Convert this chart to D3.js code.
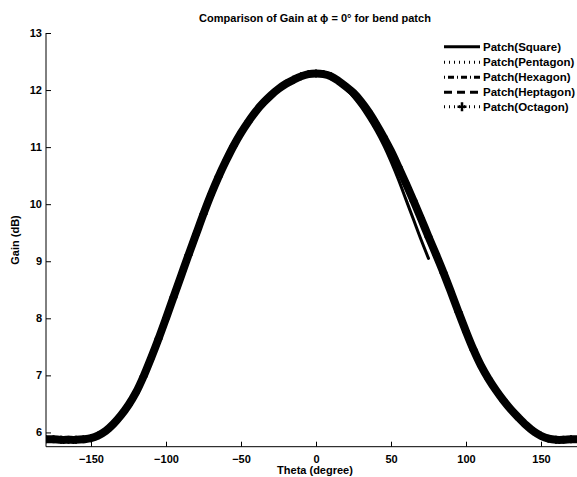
<!DOCTYPE html>
<html><head><meta charset="utf-8">
<script src="https://cdn.jsdelivr.net/npm/d3@7"></script>
<style>
body{margin:0;background:#fff;}
svg{display:block;}
text{font-family:"Liberation Sans",Arial,sans-serif;font-weight:bold;fill:#000;}
</style></head>
<body>
<script>
// ---- data ----
const theta = [-180,-175,-170,-165,-160,-155,-150,-145,-140,-135,-130,-125,-120,-115,-110,-105,-100,-95,-90,-85,-80,-75,-70,-65,-60,-55,-50,-45,-40,-35,-30,-25,-20,-15,-10,-5,0,5,10,15,20,25,30,35,40,45,50,55,60,65,70,75,80,85,90,95,100,105,110,115,120,125,130,135,140,145,150,155,160,165,170,175];
const square = [null,null,null,null,null,null,null,null,null,null,null,null,6.73,7.01,7.33,7.67,8.03,8.40,8.77,9.14,9.50,9.86,10.20,10.51,10.79,11.04,11.27,11.47,11.65,11.80,11.93,12.04,12.13,12.20,12.26,12.29,12.29,12.27,12.22,12.13,12.02,11.88,11.71,11.51,11.29,11.04,10.75,10.43,10.08,9.73,9.38,9.05,null,null,null,null,null,null,null,null,null,null,null,null,null,null,null,null,null,null,null,null];
const pentagon = [5.89,5.89,5.88,5.88,5.88,5.89,5.91,5.96,6.04,6.16,6.31,6.49,6.71,6.99,7.31,7.65,8.01,8.38,8.75,9.12,9.48,9.84,10.18,10.49,10.77,11.03,11.26,11.46,11.64,11.79,11.92,12.03,12.12,12.19,12.25,12.28,12.29,12.28,12.24,12.16,12.06,11.94,11.79,11.61,11.40,11.17,10.92,10.64,10.35,10.05,9.74,9.42,9.11,8.79,8.45,8.10,7.76,7.44,7.16,6.93,6.73,6.55,6.39,6.25,6.12,6.01,5.93,5.88,5.86,5.86,5.87,5.87];
const hexagon = [5.88,5.88,5.87,5.87,5.87,5.88,5.90,5.95,6.03,6.15,6.30,6.48,6.70,6.98,7.30,7.64,8.00,8.37,8.74,9.11,9.47,9.83,10.17,10.48,10.76,11.02,11.25,11.45,11.63,11.78,11.91,12.02,12.11,12.18,12.24,12.28,12.29,12.28,12.25,12.17,12.07,11.96,11.81,11.63,11.42,11.19,10.94,10.66,10.37,10.07,9.76,9.44,9.13,8.81,8.47,8.12,7.78,7.46,7.18,6.95,6.75,6.57,6.41,6.27,6.14,6.03,5.95,5.90,5.88,5.88,5.89,5.89];
const heptagon = [5.87,5.87,5.86,5.86,5.86,5.87,5.89,5.94,6.02,6.14,6.29,6.47,6.69,6.97,7.29,7.63,7.99,8.36,8.73,9.10,9.46,9.82,10.16,10.47,10.75,11.01,11.24,11.44,11.62,11.77,11.90,12.01,12.10,12.17,12.23,12.27,12.28,12.27,12.24,12.17,12.07,11.96,11.81,11.63,11.42,11.19,10.94,10.66,10.37,10.07,9.76,9.44,9.13,8.81,8.47,8.12,7.78,7.46,7.18,6.95,6.75,6.57,6.41,6.27,6.14,6.03,5.95,5.90,5.88,5.88,5.89,5.89];
const octagon = [5.88,5.88,5.87,5.87,5.87,5.88,5.90,5.95,6.03,6.15,6.30,6.48,6.70,6.98,7.30,7.64,8.00,8.37,8.74,9.11,9.47,9.83,10.17,10.48,10.76,11.02,11.25,11.45,11.63,11.78,11.91,12.02,12.11,12.18,12.24,12.28,12.29,12.28,12.24,12.16,12.06,11.95,11.80,11.62,11.41,11.18,10.93,10.65,10.36,10.06,9.75,9.43,9.12,8.80,8.46,8.11,7.77,7.45,7.17,6.94,6.74,6.56,6.40,6.26,6.13,6.02,5.94,5.89,5.87,5.87,5.88,5.88];
const seriesNames = ["Patch(Square)","Patch(Pentagon)","Patch(Hexagon)","Patch(Heptagon)","Patch(Octagon)"];
const xTicks = [-150,-100,-50,0,50,100,150];
const yTicks = [6,7,8,9,10,11,12,13];
const titleText = "Comparison of Gain at \u03D5 = 0\u00B0 for bend patch";
const xLabel = "Theta (degree)";
const yLabel = "Gain (dB)";

// ---- layout ----
const W = 577, H = 477;
const L = 46, T = 33, R = 578.5, B = 446.7;
const x = d3.scaleLinear().domain([-180,175]).range([L,R]);
const y = d3.scaleLinear().domain([5.75,13]).range([B,T]);

const svg = d3.select("body").append("svg").attr("width",W).attr("height",H);
svg.append("defs").append("clipPath").attr("id","clip")
  .append("rect").attr("x",L).attr("y",T-10).attr("width",R-L).attr("height",B-T+10);

// legend styles
const styles = [
  {dash:null},
  {dash:"1,4"},
  {dash:"1,3,6,3"},
  {dash:"8,5"},
  {dash:"1,4"}
];
// plot stroke widths (octagon's dense '+' markers form the wide band)
const plotW = [3,3,3,3,8];
const allSeries = [square,pentagon,hexagon,heptagon,octagon];
const order = [4,1,2,3,0];

const g = svg.append("g").attr("clip-path","url(#clip)");
const line = d3.line().defined(d=>d[1]!=null).x(d=>x(d[0])).y(d=>y(d[1])).curve(d3.curveCatmullRom.alpha(0.5));
order.forEach(i=>{
  const s = allSeries[i];
  const pts = theta.map((t,j)=>[t,s[j]]);
  g.append("path").attr("d",line(pts)).attr("fill","none").attr("stroke","#000")
    .attr("stroke-width",plotW[i]).attr("stroke-linejoin","round").attr("stroke-linecap","round")
    .attr("stroke-dasharray", i===4 ? null : styles[i].dash);
});
// octagon '+' markers
const ms = 4;
g.selectAll("path.mk").data(theta.map((t,j)=>[t,octagon[j]])).enter().append("path")
  .attr("class","mk")
  .attr("d",d=>{const cx=x(d[0]),cy=y(d[1]);return `M${cx-ms},${cy}H${cx+ms}M${cx},${cy-ms}V${cy+ms}`;})
  .attr("stroke","#000").attr("stroke-width",2).attr("fill","none");

// axes
const xAxis = d3.axisBottom(x).tickValues(xTicks).tickSize(-5).tickPadding(9).tickFormat(d3.format("d"));
const yAxis = d3.axisLeft(y).tickValues(yTicks).tickSize(-5).tickPadding(4).tickFormat(d3.format("d"));
const gx = svg.append("g").attr("transform",`translate(0,${B})`).call(xAxis);
const gy = svg.append("g").attr("transform",`translate(${L},0)`).call(yAxis);
[gx,gy].forEach(a=>{
  a.select(".domain").attr("stroke","#000").attr("stroke-width",1);
  a.selectAll(".tick line").attr("stroke","#000").attr("stroke-width",1);
  a.selectAll(".tick text").attr("font-size",11).attr("font-family","Liberation Sans, Arial, sans-serif").attr("font-weight","bold").attr("fill","#000");
});
gy.select(".domain").attr("d",`M0,${B}V${T}`);
gx.select(".domain").attr("d",`M${L},0H${R}`);

// title & labels
svg.append("text").attr("x",315).attr("y",22).attr("text-anchor","middle").attr("font-size",11).text(titleText);
svg.append("text").attr("x",315).attr("y",474).attr("text-anchor","middle").attr("font-size",11).text(xLabel);
svg.append("text").attr("transform","translate(19,240) rotate(-90)").attr("text-anchor","middle").attr("font-size",11).text(yLabel);

// legend
const legY = [46.7,62.3,77.3,92.3,106.7];
const lg = svg.append("g");
seriesNames.forEach((n,i)=>{
  const yy = legY[i];
  lg.append("line").attr("x1",444).attr("x2",480).attr("y1",yy).attr("y2",yy)
    .attr("stroke","#000").attr("stroke-width",3).attr("stroke-dasharray",styles[i].dash);
  if(i===4){
    const cx=462;
    lg.append("path").attr("d",`M${cx-4.5},${yy}H${cx+4.5}M${cx},${yy-4.5}V${yy+4.5}`).attr("stroke","#000").attr("stroke-width",2.5);
  }
  lg.append("text").attr("x",483).attr("y",yy+4).attr("font-size",11.5).text(n);
});
</script>
</body></html>
